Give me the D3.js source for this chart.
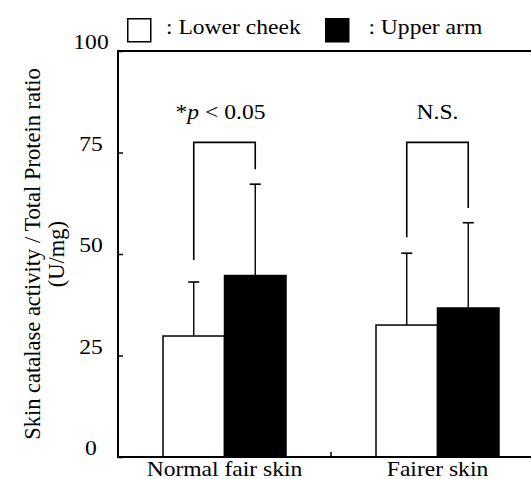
<!DOCTYPE html>
<html>
<head>
<meta charset="utf-8">
<script src="https://cdn.jsdelivr.net/npm/d3@7"></script>
</head>
<body style="margin:0; background:#fff">
<div id="chart"></div>
<script>
// data
const categories = ["Normal fair skin", "Fairer skin"]
const series = ["Lower cheek", "Upper arm"]
const seriesFill = ["#fff", "#000"]
const means = [[29.8, 44.7], [32.5, 36.7]]
const errTops = [[43.1, 67.2], [50.2, 57.7]]
const yTicks = [0, 25, 50, 75, 100]
// significance brackets: [left leg bottom, right leg bottom, top]
const brackets = [[48.5, 70.9, 77.5], [54.1, 61.3, 77.5]]
const sigLabels = ["*p < 0.05", "N.S."]

const width = 531, height = 479
const plot = { left: 118, right: 544, top: 51, bottom: 457 }
const FONT = "'Liberation Serif'"
const FS = "20.5px"
// the source typeface runs wider than Liberation Serif
const stretch = (tx, ty) => "translate(" + tx + "," + ty + ") scale(1.15,1)"

const svg = d3.select("#chart").append("svg")
    .attr("width", width)
    .attr("height", height)

// scales
const x = d3.scaleBand().domain(categories).range([plot.left, plot.right])
const xs = d3.scaleBand().domain(series).range([45, 168])
const y = d3.scaleLinear().domain([0, 100]).range([plot.bottom, plot.top])

// bars
const groups = svg.selectAll("g.group")
    .data(categories)
    .enter().append("g")
    .attr("class", "group")
    .attr("transform", d => "translate(" + x(d) + ",0)")

groups.each(function (cat, ci) {
    const g = d3.select(this)
    series.forEach((s, si) => {
        const cx = xs(s) + xs.bandwidth() / 2
        // error bar (upper only)
        g.append("line")
            .attr("x1", cx).attr("x2", cx)
            .attr("y1", y(means[ci][si])).attr("y2", y(errTops[ci][si]))
            .attr("stroke", "#000").attr("stroke-width", 1.4)
        g.append("line")
            .attr("x1", cx - 5.5).attr("x2", cx + 5.5)
            .attr("y1", y(errTops[ci][si])).attr("y2", y(errTops[ci][si]))
            .attr("stroke", "#000").attr("stroke-width", 1.6)
        g.append("rect")
            .attr("x", xs(s))
            .attr("y", y(means[ci][si]))
            .attr("width", xs.bandwidth())
            .attr("height", y(0) - y(means[ci][si]))
            .attr("fill", seriesFill[si])
            .attr("stroke", "#000")
            .attr("stroke-width", 1.5)
    })
    // bracket
    const b = brackets[ci]
    const lx = xs(series[0]) + xs.bandwidth() / 2
    const rx = xs(series[1]) + xs.bandwidth() / 2
    g.append("path")
        .attr("d", d3.line()([[lx, y(b[0])], [lx, y(b[2])], [rx, y(b[2])], [rx, y(b[1])]]))
        .attr("fill", "none")
        .attr("stroke", "#000")
        .attr("stroke-width", 1.6)
    // significance label
    const t = g.append("text")
        .attr("transform", stretch((lx + rx) / 2 - (ci === 0 ? 4 : 0), 118.5))
        .attr("text-anchor", "middle")
        .style("font-family", FONT)
        .style("font-size", FS)
    if (ci === 0) {
        t.append("tspan").text("*")
        t.append("tspan").style("font-style", "italic").text("p")
        t.append("tspan").text(" < 0.05")
    } else {
        t.text(sigLabels[ci])
    }
})

// frame
svg.append("rect")
    .attr("x", plot.left).attr("y", plot.top)
    .attr("width", plot.right - plot.left)
    .attr("height", plot.bottom - plot.top)
    .attr("fill", "none")
    .attr("stroke", "#000")
    .attr("stroke-width", 2)

// y axis with inward ticks
const yAxis = svg.append("g")
    .attr("transform", "translate(" + plot.left + ",0)")
    .call(d3.axisLeft(y).tickValues(yTicks).tickSize(-5).tickPadding(0))
yAxis.select(".domain").remove()
yAxis.selectAll(".tick line").attr("stroke", "#000").attr("stroke-width", 1.5)
yAxis.selectAll(".tick text")
    .attr("x", 0)
    .attr("dy", 0)
    .attr("transform", stretch(-27, -2.5))
    .attr("text-anchor", "middle")
    .attr("fill", "#000")
    .style("font-family", FONT)
    .style("font-size", FS)

// middle tick on x axis
svg.append("line")
    .attr("x1", x(categories[1])).attr("x2", x(categories[1]))
    .attr("y1", plot.bottom).attr("y2", plot.bottom - 5)
    .attr("stroke", "#000").attr("stroke-width", 1.5)

// x category labels
svg.selectAll("text.xlab")
    .data(categories)
    .enter().append("text")
    .attr("class", "xlab")
    .attr("transform", d => stretch(x(d) + x.bandwidth() / 2, 475.5))
    .attr("text-anchor", "middle")
    .style("font-family", FONT)
    .style("font-size", FS)
    .text(d => d)

// y axis title
const yTitle = svg.append("text")
    .attr("transform", "translate(40,254) rotate(-90)")
    .attr("text-anchor", "middle")
    .style("font-family", FONT)
    .style("font-size", "22.5px")
yTitle.append("tspan").attr("x", 0).attr("y", 0).text("Skin catalase activity / Total Protein ratio")
yTitle.append("tspan").attr("x", 0).attr("y", 24).text("(U/mg)")

// legend
const legendX = [127, 325]
const legend = svg.selectAll("g.legend")
    .data(series)
    .enter().append("g")
    .attr("class", "legend")
    .attr("transform", (d, i) => "translate(" + legendX[i] + ",18)")
legend.append("rect")
    .attr("x", 0.75).attr("y", 0.75)
    .attr("width", 23).attr("height", 23)
    .attr("fill", (d, i) => seriesFill[i])
    .attr("stroke", "#000")
    .attr("stroke-width", 1.5)
legend.append("text")
    .attr("transform", (d, i) => stretch(i === 0 ? 39 : 43.4, 16))
    .style("font-family", FONT)
    .style("font-size", FS)
    .text(d => ": " + d)
</script>
</body>
</html>
